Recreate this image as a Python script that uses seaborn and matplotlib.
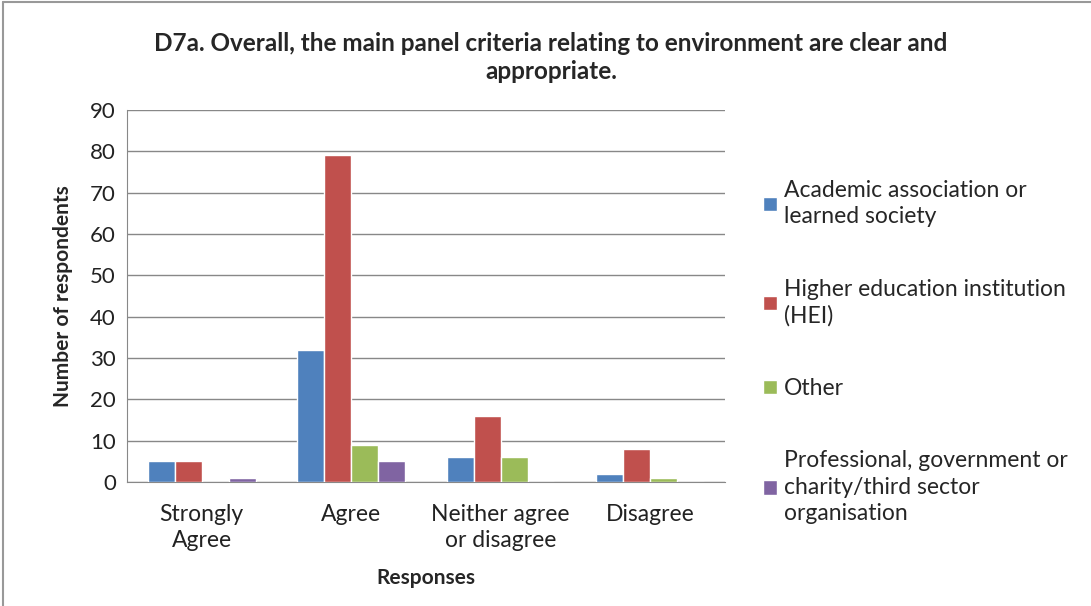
import pandas as pd
import matplotlib.pyplot as plt
import seaborn as sns

# ── data ──────────────────────────────────────────────────────────────────────
responses = ['Strongly\nAgree', 'Agree', 'Neither agree\nor disagree', 'Disagree']
groups = ['Academic association or\nlearned society',
          'Higher education institution\n(HEI)',
          'Other',
          'Professional, government or\ncharity/third sector\norganisation']
academic = [5, 32, 6, 2]
hei = [5, 79, 16, 8]
other = [0, 9, 6, 1]
professional = [1, 5, 0, 0]
colors = ['#4F81BD', '#C0504D', '#9BBB59', '#8064A2']

rows = []
for g, vals in zip(groups, [academic, hei, other, professional]):
    for r, v in zip(responses, vals):
        rows.append({'response': r, 'group': g, 'count': v})
df = pd.DataFrame(rows)

# ── plot ──────────────────────────────────────────────────────────────────────
sns.set_style('white')
plt.rcParams['font.family'] = ['Lato', 'DejaVu Sans']

fig = plt.figure(figsize=(10.91, 6.06), dpi=100)
ax = fig.add_axes([0.1164, 0.2046, 0.548, 0.6139])

sns.barplot(data=df, x='response', y='count', hue='group', palette=colors,
            width=0.72, saturation=1, ax=ax, zorder=3)

ax.set_ylim(0, 90)
ax.set_yticks(range(0, 91, 10))
ax.yaxis.grid(True, color='#888888', linewidth=1, zorder=0)
for side in ['top', 'right']:
    ax.spines[side].set_visible(False)
for side in ['left', 'bottom']:
    ax.spines[side].set_color('#888888')
ax.tick_params(axis='y', labelsize=16, colors='#222222', length=0, pad=8)
ax.tick_params(axis='x', labelsize=16.5, colors='#222222', length=0, pad=16)
for t in ax.get_xticklabels():
    t.set_linespacing(1.3)
ax.set_xlabel('Responses', fontsize=15, fontweight='bold', labelpad=12)
ax.set_ylabel('Number of respondents', fontsize=15, fontweight='bold', labelpad=12)

fig.suptitle('D7a. Overall, the main panel criteria relating to environment are clear and\nappropriate.',
             fontsize=17.5, fontweight='bold', x=0.505, y=0.948, linespacing=1.3)

leg = ax.legend(loc='center left', bbox_to_anchor=(1.03, 0.35), frameon=False,
                fontsize=16.5, labelspacing=2.25, handlelength=0.6, handleheight=0.6,
                handletextpad=0.3)
for t in leg.get_texts():
    t.set_linespacing(1.3)

# figure border like the original export
fig.add_artist(plt.Line2D([0.003, 0.003], [0, 0.997], color='#999999', lw=1.5))
fig.add_artist(plt.Line2D([0.003, 1], [0.997, 0.997], color='#999999', lw=1.5))

fig.savefig('out.png', dpi=100)
